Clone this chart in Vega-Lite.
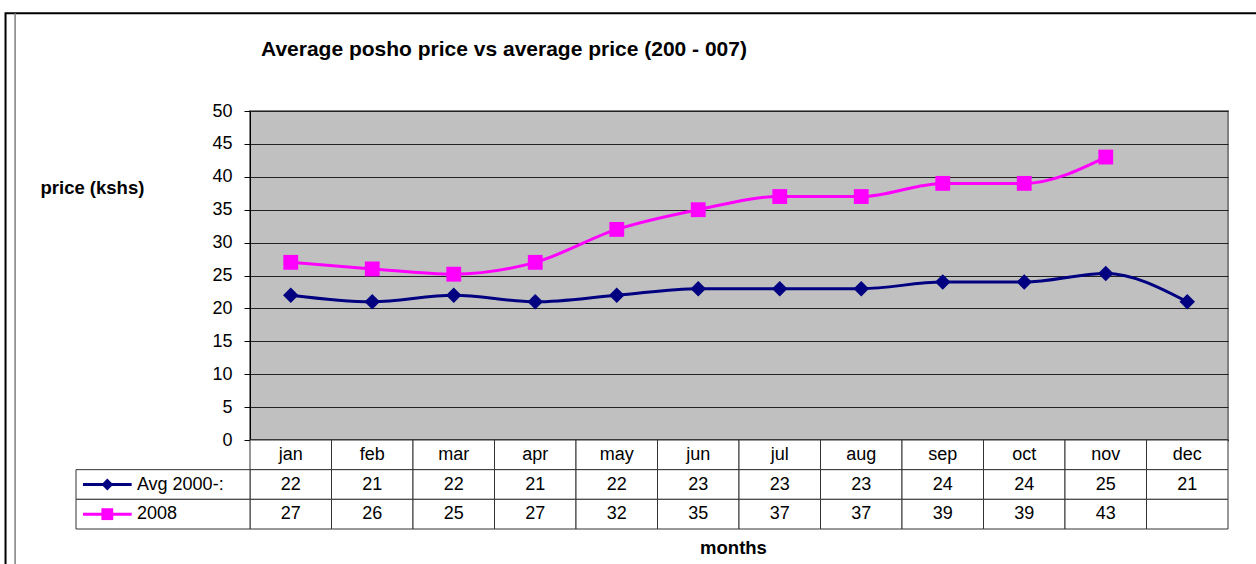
{
  "$schema": "https://vega.github.io/schema/vega-lite/v6.json",
  "width": 978,
  "height": 329,
  "autosize": "none",
  "padding": {"left": 250, "top": 111, "right": 28, "bottom": 124},
  "background": "white",
  "title": {
    "text": "Average posho price vs average price (200 - 007)",
    "anchor": "start",
    "frame": "group",
    "dx": 11,
    "offset": -65,
    "baseline": "alphabetic",
    "font": "Liberation Sans",
    "fontSize": 21,
    "fontWeight": "bold",
    "color": "black"
  },
  "config": {
    "font": "Liberation Sans",
    "view": {"fill": "#C0C0C0", "stroke": "#808080", "strokeWidth": 2}
  },
  "datasets": {
    "prices": [
      {"month": "jan", "series": "Avg 2000-:", "price": 22},
      {"month": "feb", "series": "Avg 2000-:", "price": 21},
      {"month": "mar", "series": "Avg 2000-:", "price": 22},
      {"month": "apr", "series": "Avg 2000-:", "price": 21},
      {"month": "may", "series": "Avg 2000-:", "price": 22},
      {"month": "jun", "series": "Avg 2000-:", "price": 23},
      {"month": "jul", "series": "Avg 2000-:", "price": 23},
      {"month": "aug", "series": "Avg 2000-:", "price": 23},
      {"month": "sep", "series": "Avg 2000-:", "price": 24},
      {"month": "oct", "series": "Avg 2000-:", "price": 24},
      {"month": "nov", "series": "Avg 2000-:", "price": 25.3},
      {"month": "dec", "series": "Avg 2000-:", "price": 21},
      {"month": "jan", "series": "2008", "price": 27},
      {"month": "feb", "series": "2008", "price": 26},
      {"month": "mar", "series": "2008", "price": 25.2},
      {"month": "apr", "series": "2008", "price": 27},
      {"month": "may", "series": "2008", "price": 32},
      {"month": "jun", "series": "2008", "price": 35},
      {"month": "jul", "series": "2008", "price": 37},
      {"month": "aug", "series": "2008", "price": 37},
      {"month": "sep", "series": "2008", "price": 39},
      {"month": "oct", "series": "2008", "price": 39},
      {"month": "nov", "series": "2008", "price": 43},
      {"month": "dec", "series": "2008", "price": null}
    ],
    "months": [
      {"month": "jan"}, {"month": "feb"}, {"month": "mar"}, {"month": "apr"},
      {"month": "may"}, {"month": "jun"}, {"month": "jul"}, {"month": "aug"},
      {"month": "sep"}, {"month": "oct"}, {"month": "nov"}, {"month": "dec"}
    ],
    "series": [
      {"series": "Avg 2000-:"},
      {"series": "2008"}
    ]
  },
  "layer": [
    {
      "data": {"values": [{}]},
      "encoding": {
        "x": {"type": "quantitative", "scale": {"domain": [0, 1], "range": [-174, 0], "zero": false, "nice": false}, "axis": null},
        "y": {"type": "quantitative", "scale": {"domain": [0, 50], "zero": false, "nice": false}, "axis": null}
      },
      "layer": [
        {
          "mark": {"type": "rect", "fill": null, "fillOpacity": 0, "stroke": "black", "strokeWidth": 2, "clip": false},
          "encoding": {
            "x": {"datum": -0.405},
            "x2": {"datum": 7},
            "y": {"datum": 64.85},
            "y2": {"datum": -40}
          }
        },
        {
          "mark": {"type": "rule", "stroke": "#808080", "strokeWidth": 1.5},
          "encoding": {
            "x": {"datum": -0.35},
            "y": {"datum": 64.85},
            "y2": {"datum": -40}
          }
        }
      ]
    },
    {
      "data": {"name": "prices"},
      "encoding": {
        "x": {
          "field": "month", "type": "nominal",
          "sort": ["jan","feb","mar","apr","may","jun","jul","aug","sep","oct","nov","dec"],
          "scale": {"paddingInner": 0, "paddingOuter": 0},
          "axis": {
            "labels": false, "ticks": false, "grid": false,
            "domain": true, "domainColor": "black", "domainWidth": 2,
            "title": "months", "titleFontSize": 18.5, "titleFontWeight": "bold", "titleColor": "black",
            "titleX": 483, "titleY": 107, "titleBaseline": "middle", "titleAlign": "center"
          }
        },
        "y": {
          "field": "price", "type": "quantitative",
          "scale": {"domain": [0, 50], "nice": false},
          "axis": {
            "values": [0,5,10,15,20,25,30,35,40,45,50],
            "grid": true, "gridColor": "#222", "gridWidth": 1,
            "domainColor": "black", "domainWidth": 1,
            "tickColor": "black", "tickSize": 6,
            "labelFontSize": 18, "labelColor": "black", "labelPadding": 12,
            "title": "price (kshs)", "titleAngle": 0, "titleFontSize": 18.5, "titleFontWeight": "bold",
            "titleColor": "black", "titleX": -210, "titleY": 76, "titleAlign": "left", "titleBaseline": "middle"
          }
        },
        "color": {
          "field": "series", "type": "nominal",
          "scale": {"domain": ["Avg 2000-:", "2008"], "range": ["#000080", "#FF00FF"]},
          "legend": null
        }
      },
      "layer": [
        {"mark": {"type": "line", "interpolate": "monotone", "strokeWidth": 3}},
        {
          "mark": {"type": "point", "filled": true, "opacity": 1},
          "encoding": {
            "shape": {
              "field": "series", "type": "nominal",
              "scale": {"domain": ["Avg 2000-:", "2008"], "range": ["diamond", "square"]},
              "legend": null
            },
            "size": {
              "field": "series", "type": "nominal",
              "scale": {"domain": ["Avg 2000-:", "2008"], "range": [240, 220]},
              "legend": null
            }
          }
        }
      ]
    },
    {
      "encoding": {
        "x": {
          "field": "month", "type": "nominal",
          "sort": ["jan","feb","mar","apr","may","jun","jul","aug","sep","oct","nov","dec"],
          "scale": {"paddingInner": 0, "paddingOuter": 0},
          "axis": null
        }
      },
      "layer": [
        {
          "data": {"name": "months"},
          "mark": {"type": "rect", "fill": "white", "stroke": "#333", "strokeWidth": 1},
          "encoding": {
            "y": {"datum": "hdr", "type": "nominal", "scale": {"domain": ["hdr", "Avg 2000-:", "2008"], "range": [329, 418], "paddingInner": 0, "paddingOuter": 0}, "axis": null}
          }
        },
        {
          "data": {"name": "months"},
          "mark": {"type": "text", "fontSize": 18, "color": "black", "baseline": "middle"},
          "encoding": {
            "y": {"datum": "hdr", "type": "nominal"},
            "text": {"field": "month"}
          }
        },
        {
          "data": {"name": "prices"},
          "mark": {"type": "rect", "fill": "white", "stroke": "#333", "strokeWidth": 1},
          "encoding": {
            "y": {"field": "series", "type": "nominal"}
          }
        },
        {
          "data": {"name": "prices"},
          "transform": [{"filter": "datum.price != null"}],
          "mark": {"type": "text", "fontSize": 18, "color": "black", "baseline": "middle"},
          "encoding": {
            "y": {"field": "series", "type": "nominal"},
            "text": {"field": "price", "format": ".0f"}
          }
        }
      ]
    },
    {
      "data": {"name": "series"},
      "encoding": {
        "x": {"type": "quantitative", "scale": {"domain": [0, 1], "range": [-174, 0], "zero": false, "nice": false}, "axis": null},
        "y": {"field": "series", "type": "nominal", "scale": {"domain": ["hdr", "Avg 2000-:", "2008"], "range": [329, 418], "paddingInner": 0, "paddingOuter": 0}, "axis": null},
        "color": {
          "field": "series", "type": "nominal",
          "scale": {"domain": ["Avg 2000-:", "2008"], "range": ["#000080", "#FF00FF"]},
          "legend": null
        }
      },
      "layer": [
        {
          "mark": {"type": "rect", "fill": "white", "stroke": "#333", "strokeWidth": 1},
          "encoding": {"x": {"datum": 0}, "x2": {"datum": 1}, "color": {"value": "white"}}
        },
        {
          "mark": {"type": "rule", "strokeWidth": 3},
          "encoding": {"x": {"datum": 0.04}, "x2": {"datum": 0.32}}
        },
        {
          "mark": {"type": "point", "filled": true, "opacity": 1},
          "encoding": {
            "x": {"datum": 0.18},
            "shape": {
              "field": "series", "type": "nominal",
              "scale": {"domain": ["Avg 2000-:", "2008"], "range": ["diamond", "square"]},
              "legend": null
            },
            "size": {"value": 140}
          }
        },
        {
          "mark": {"type": "text", "fontSize": 18, "align": "left", "baseline": "middle"},
          "encoding": {"x": {"datum": 0.35}, "text": {"field": "series"}, "color": {"value": "black"}}
        }
      ]
    }
  ],
  "resolve": {"scale": {"x": "independent", "y": "independent"}}
}
